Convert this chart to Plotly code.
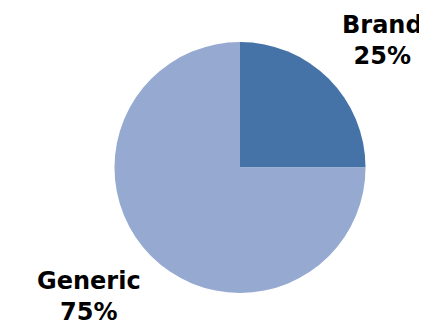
import plotly.graph_objects as go

labels = ["Brand", "Generic"]
values = [25, 75]
colors = ["#4572A7", "#95A9D1"]

fig = go.Figure()
fig.add_trace(go.Pie(
    labels=labels, values=values, sort=False, direction="clockwise", rotation=0,
    marker=dict(colors=colors, line=dict(width=0)),
    textinfo="none", hoverinfo="label+percent", showlegend=False,
    domain=dict(x=[0.2670 - 0.0176, 0.8549 - 0.0176], y=[0.1178 + 0.0211, 0.8762 + 0.0211]),
))

total = sum(values)
pos = {"Brand": (0.877, 0.902), "Generic": (0.19, 0.128)}
for lab, v in zip(labels, values):
    x, y = pos[lab]
    fig.add_annotation(
        x=x, y=y, xref="paper", yref="paper", showarrow=False,
        text=f"<b>{lab}</b><br><b>{round(100*v/total)}%</b>",
        font=dict(family="DejaVu Sans", size=24, color="#000000"),
        xanchor="center", yanchor="middle", align="center",
    )

fig.update_layout(
    width=427, height=331, margin=dict(l=0, r=0, t=0, b=0),
    paper_bgcolor="white", plot_bgcolor="white",
)
fig.write_html("out.html")
